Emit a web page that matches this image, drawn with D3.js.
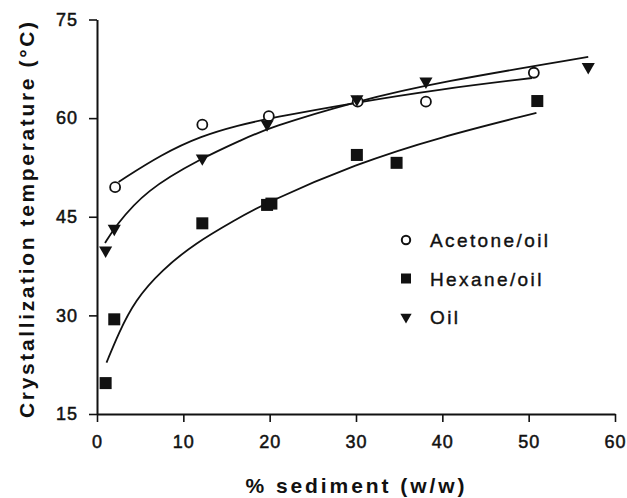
<!DOCTYPE html>
<html>
<head>
<meta charset="utf-8">
<script src="https://cdn.jsdelivr.net/npm/d3@7"></script>
<style>
  html, body { margin: 0; padding: 0; background: #fff; }
  svg { display: block; font-family: "Liberation Sans", Arial, sans-serif; }
</style>
</head>
<body>
<svg id="chart" width="627" height="498"></svg>
<script>
// Measured points: [% sediment, crystallization temperature °C]
const acetonePoints = [[2.1, 49.5], [12.2, 59.0], [19.9, 60.3], [30.2, 62.5], [38.1, 62.5], [50.6, 66.9]];
const hexanePoints  = [[1.0, 19.7], [2.0, 29.4], [12.2, 44.0], [19.7, 46.8], [20.2, 47.0], [30.1, 54.4], [34.7, 53.2], [51.0, 62.6]];
const oilPoints     = [[1.0, 39.9], [2.0, 43.2], [12.2, 53.9], [19.7, 59.1], [30.1, 62.9], [38.1, 65.6], [56.9, 67.8]];

// Trend curves through each series
const acetoneCurve = [[2.5, 50.3], [7.5, 54.5], [12.1, 57.3], [16.4, 58.9], [20.0, 60.0], [30.1, 62.4], [39.7, 64.4], [50.4, 66.1]];
const hexaneCurve  = [[1.1, 22.8], [2.5, 27.3], [4.4, 32.3], [7.5, 36.9], [11.4, 41.0], [16.0, 44.5], [19.5, 47.1], [30.1, 53.1], [39.7, 57.1], [50.9, 60.8]];
const oilCurve     = [[0.93, 41.0], [2.1, 43.5], [5.6, 49.0], [12.1, 53.9], [16.8, 56.7], [19.8, 58.5], [30.1, 62.6], [39.7, 65.5], [56.9, 69.3]];

const xTicks = [0, 10, 20, 30, 40, 50, 60];
const yTicks = [15, 30, 45, 60, 75];
const legendLabels = ["Acetone/oil", "Hexane/oil", "Oil"];

const ink = "#111";
const svg = d3.select("#chart");

const x = d3.scaleLinear().domain([0, 60]).range([97, 615]);
const y = d3.scaleLinear().domain([15, 75]).range([414, 19.5]);

// Axes
const xAxis = svg.append("g")
  .attr("transform", `translate(0,${y(15)})`)
  .call(d3.axisBottom(x).tickValues(xTicks).tickSize(8).tickSizeOuter(0).tickPadding(13));
const yAxis = svg.append("g")
  .attr("transform", `translate(${x(0)},0)`)
  .call(d3.axisLeft(y).tickValues(yTicks).tickSize(8).tickSizeOuter(0).tickPadding(11));

[xAxis, yAxis].forEach(g => {
  g.select(".domain").attr("stroke", ink).attr("stroke-width", 2);
  g.selectAll(".tick line").attr("stroke", ink).attr("stroke-width", 1.6);
  g.selectAll(".tick text")
    .attr("fill", ink)
    .attr("stroke", ink)
    .attr("stroke-width", 0.5)
    .style("font-size", "18px")
    .style("letter-spacing", "1px")
    .style("font-family", "'Liberation Sans', Arial, sans-serif");
});

// Axis titles
svg.append("text")
  .attr("x", x(30) - 1)
  .attr("y", 493)
  .attr("text-anchor", "middle")
  .attr("fill", ink)
  .attr("font-weight", "bold")
  .attr("font-size", 21)
  .attr("textLength", 219)
  .attr("lengthAdjust", "spacing")
  .text("% sediment (w/w)");

svg.append("text")
  .attr("transform", `translate(34,${(22 + 418) / 2}) rotate(-90)`)
  .attr("text-anchor", "middle")
  .attr("fill", ink)
  .attr("font-weight", "bold")
  .attr("font-size", 21)
  .attr("textLength", 396)
  .attr("lengthAdjust", "spacing")
  .text("Crystallization temperature (°C)");

// Trend curves
const line = d3.line()
  .x(d => x(d[0]))
  .y(d => y(d[1]))
  .curve(d3.curveBasis);

[acetoneCurve, hexaneCurve, oilCurve].forEach(c => {
  svg.append("path")
    .datum(c)
    .attr("d", line)
    .attr("fill", "none")
    .attr("stroke", ink)
    .attr("stroke-width", 1.8);
});

// Markers
const tri = d3.symbol().type(d3.symbolTriangle);

svg.append("g").selectAll("circle")
  .data(acetonePoints)
  .join("circle")
  .attr("cx", d => x(d[0]))
  .attr("cy", d => y(d[1]))
  .attr("r", 5)
  .attr("fill", "#fff")
  .attr("stroke", ink)
  .attr("stroke-width", 1.8);

svg.append("g").selectAll("rect")
  .data(hexanePoints)
  .join("rect")
  .attr("x", d => x(d[0]) - 6)
  .attr("y", d => y(d[1]) - 6)
  .attr("width", 12)
  .attr("height", 12)
  .attr("fill", ink);

svg.append("g").selectAll("path")
  .data(oilPoints)
  .join("path")
  .attr("d", tri.size(75))
  .attr("transform", d => `translate(${x(d[0])},${y(d[1])}) rotate(180)`)
  .attr("fill", ink);

// Legend
const legend = svg.append("g").attr("transform", "translate(406,240)");
const rowGap = 38.5;
legendLabels.forEach((label, i) => {
  const row = legend.append("g").attr("transform", `translate(0,${i * rowGap})`);
  if (i === 0) {
    row.append("circle").attr("r", 4.2).attr("fill", "#fff").attr("stroke", ink).attr("stroke-width", 2);
  } else if (i === 1) {
    row.append("rect").attr("x", -5).attr("y", -5).attr("width", 10).attr("height", 10).attr("fill", ink);
  } else {
    row.append("path").attr("d", tri.size(55)).attr("transform", "rotate(180)").attr("fill", ink);
  }
  row.append("text")
    .attr("x", 24)
    .attr("y", 7)
    .attr("fill", ink)
    .attr("stroke", ink)
    .attr("stroke-width", 0.4)
    .attr("font-size", 19)
    .style("letter-spacing", "2.4px")
    .text(label);
});
</script>
</body>
</html>
